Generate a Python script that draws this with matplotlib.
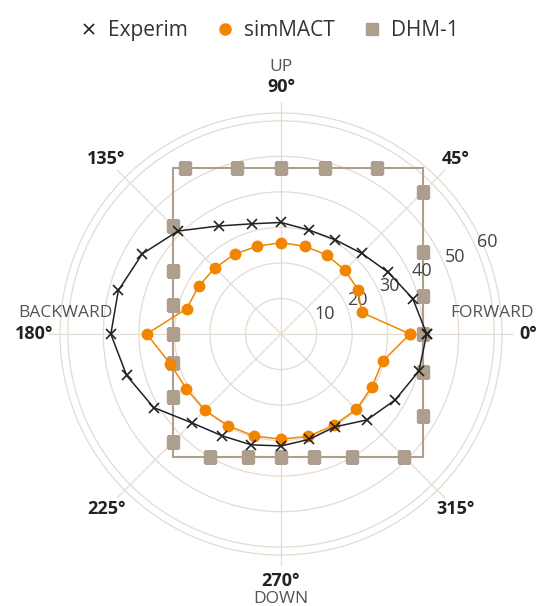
import numpy as np
import matplotlib
matplotlib.use("Agg")
import matplotlib.pyplot as plt
from matplotlib.lines import Line2D

plt.rcParams['font.family'] = ['Open Sans', 'DejaVu Sans']

# angulos cada 15 grados
angulos = np.arange(0, 360, 15)

experim = [41.0, 38.4, 34.8, 32.1, 30.6, 30.3, 31.4, 32.1, 35.1, 41.0, 45.1, 47.4,
           47.9, 45.0, 41.4, 35.4, 33.1, 32.3, 31.5, 30.7, 30.2, 34.2, 37.1, 40.2]
simmact = [36.3, 23.5, 25.0, 25.4, 25.7, 25.6, 25.7, 25.6, 26.0, 26.3, 26.8, 27.5,
           37.8, 32.3, 30.8, 30.4, 29.8, 29.7, 29.6, 29.8, 29.7, 30.0, 29.6, 29.6]
dhm1 = [39.9, 41.3, 46.1, 56.4, 53.9, 48.3, 46.7, 48.3, 53.9, 43.1, 35.2, 31.6,
        30.5, 31.6, 35.2, 43.1, 40.1, 35.9, 34.7, 35.9, 40.1, 49.1, 46.1, 41.3]

radios = [10, 20, 30, 40, 50, 60]
etiquetas_ang = {0: '0°', 45: '45°', 90: '90°', 135: '135°',
                 180: '180°', 225: '225°', 270: '270°', 315: '315°'}
direcciones = {0: 'FORWARD', 90: 'UP', 180: 'BACKWARD', 270: 'DOWN'}

c_grid = '#e4dbd2'
c_naranja = '#f28500'
c_gris = '#ad9e8d'
c_negro = '#222222'

fig = plt.figure(figsize=(5.38, 6.06), dpi=100)
ax = fig.add_axes([0.0911, 0.066, 0.8625, 0.7657], projection='polar')
ax.set_ylim(0, 65.3)
ax.spines['polar'].set_visible(False)
ax.set_thetagrids([0, 45, 90, 135, 180, 225, 270, 315], labels=[''] * 8)
ax.set_rgrids(radios + [62.2], labels=[''] * 7)
ax.grid(True, color=c_grid, linewidth=0.9)
ax.tick_params(length=0)

th = np.deg2rad(angulos)

def cerrar(a, r):
    return np.append(a, a[0]), np.append(r, r[0])

# DHM-1: rectangulo a partir de los puntos
x = np.array(dhm1) * np.cos(th)
y = np.array(dhm1) * np.sin(th)
xs = [x.max(), x.min(), x.min(), x.max(), x.max()]
ys = [y.max(), y.max(), y.min(), y.min(), y.max()]
ax.plot(np.arctan2(ys, xs), np.hypot(xs, ys), color=c_gris, linewidth=1.5, zorder=2)
ax.plot(th, dhm1, 's', color=c_gris, markersize=8.3, linestyle='none', zorder=3)

# Experim
t, r = cerrar(th, experim)
ax.plot(t, r, color=c_negro, linewidth=1.1, marker='x', markersize=7.5,
        markeredgewidth=1.2, zorder=5)

# simMACT
t, r = cerrar(th, simmact)
ax.plot(t, r, color=c_naranja, linewidth=1.1, marker='o', markersize=7.5, zorder=4)

# etiquetas radiales
for v in radios:
    ax.text(np.deg2rad(24), v + 3.5, str(v), ha='center', va='center',
            fontsize=13, color='#444444')

# etiquetas de angulo
for a, txt in etiquetas_ang.items():
    ax.text(np.deg2rad(a), 69.6, txt, ha='center', va='center', fontsize=13,
            fontweight='bold', color=c_negro, clip_on=False)

desplaz = {0: (-36, 21), 90: (0, 20), 180: (32, 21), 270: (0, -18)}
for a, txt in direcciones.items():
    ax.annotate(txt, xy=(np.deg2rad(a), 69.6), xytext=desplaz[a],
                textcoords='offset pixels', ha='center', va='center',
                fontsize=12.5, color='#555555', annotation_clip=False)

handles = [
    Line2D([], [], color=c_negro, marker='x', linestyle='none', markersize=7,
           markeredgewidth=1.2, label='Experim'),
    Line2D([], [], color=c_naranja, marker='o', linestyle='none', markersize=8,
           label='simMACT'),
    Line2D([], [], color=c_gris, marker='s', linestyle='none', markersize=8,
           label='DHM-1'),
]
fig.legend(handles=handles, loc='upper center', bbox_to_anchor=(0.5, 0.998),
           ncol=3, frameon=False, fontsize=15, handletextpad=0.4,
           columnspacing=1.3, handlelength=1.0, labelcolor='#333333')

fig.savefig('out.png', dpi=100)
